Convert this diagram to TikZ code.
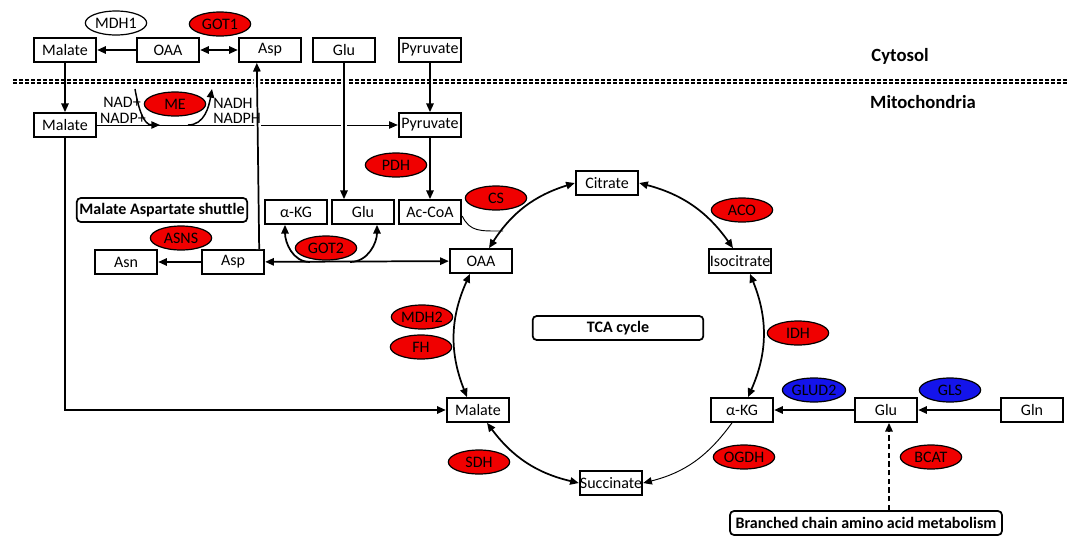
\documentclass[tikz,border=0pt]{standalone}
\usepackage{fontspec}
\setmainfont{Carlito}
\usetikzlibrary{shapes.geometric,arrows.meta,calc}
\definecolor{enzred}{RGB}{240,0,0}
\definecolor{enzblue}{RGB}{20,20,235}
\begin{document}
\begin{tikzpicture}[x=0.75pt,y=-0.75pt,
  every node/.style={font=\fontsize{12}{14}\selectfont},
  box/.style={draw, line width=1.3pt, minimum width=47pt, minimum height=18pt, inner sep=0pt},
  enz/.style={ellipse, draw, line width=0.9pt, fill=enzred, minimum width=46pt, minimum height=18pt, inner sep=0pt},
  enzb/.style={enz, fill=enzblue},
  enzw/.style={enz, fill=white},
  rbox/.style={draw, rounded corners=3pt, line width=1.3pt, minimum height=18pt, inner sep=2pt, font=\fontsize{12}{14}\selectfont\bfseries},
  lab/.style={inner sep=0pt},
  conn/.style={line width=1.3pt, -{Triangle[length=6.5pt,width=5.5pt]}},
  dconn/.style={line width=1.3pt, {Triangle[length=6.5pt,width=5.5pt]}-{Triangle[length=6.5pt,width=5.5pt]}},
  thinconn/.style={line width=0.7pt, -{Triangle[length=6.5pt,width=5.5pt]}},
  hop/.style={preaction={draw, white, line width=5pt}}
]
\useasboundingbox (0,0) rectangle (1072,536);

% membrane
\draw[line width=1.5pt, dash pattern=on 3pt off 1.5pt] (13,79.5) -- (1068,79.5);
\draw[line width=1.5pt, dash pattern=on 3pt off 1.5pt] (13,83) -- (1068,83);
\node[lab, font=\fontsize{14}{16}\selectfont\bfseries] (cyto) at (900,56) {Cytosol};
\node[lab, font=\fontsize{14}{16}\selectfont\bfseries] (mito) at (923,102) {Mitochondria};

% cytosol
\node[box] (malc) at (65,50) {Malate};
\node[box] (oaac) at (168,50) {OAA};
\node[box] (aspc) at (270,50) {Asp};
\node[box] (gluc) at (344,50) {Glu};
\node[box] (pyrc) at (430,50) {Pyruvate};
\node[enzw] (mdh1) at (116,23) {MDH1};
\node[enz] (got1) at (220,24) {GOT1};

% mito upper
\node[box] (malm) at (65,125) {Malate};
\node[box] (pyrm) at (430,125) {Pyruvate};
\node[enz] (me) at (175,104) {ME};

\node[box] (akgm) at (296,212) {α-KG};
\node[box] (glum) at (363,212) {Glu};
\node[box] (acoa) at (430,212) {Ac-CoA};
\node[enz] (pdh) at (396,165) {PDH};
\node[rbox, minimum width=127pt] (mas) at (162,210) {Malate Aspartate shuttle};
\node[enz] (asns) at (181,238) {ASNS};
\node[box] (asn) at (126,262) {Asn};
\node[box] (aspm) at (233,262) {Asp};
\node[enz] (got2) at (326,248) {GOT2};

% TCA
\node[box] (oaat) at (481,261) {OAA};
\node[enz] (cs) at (496,198) {CS};
\node[box] (cit) at (607,183) {Citrate};
\node[enz] (aco) at (742,210) {ACO};
\node[box] (iso) at (740,261) {Isocitrate};
\node[rbox, minimum width=128pt] (tca) at (618,328) {TCA cycle};
\node[enz] (mdh2) at (422,317) {MDH2};
\node[enz] (fh) at (421,347) {FH};
\node[enz] (idh) at (798,333) {IDH};
\node[box] (malt) at (478,410) {Malate};
\node[box] (akgt) at (742,410) {α-KG};
\node[enz] (sdh) at (479,462) {SDH};
\node[box] (succ) at (611,483) {Succinate};
\node[enz] (ogdh) at (744,457) {OGDH};

% right
\node[enzb] (glud2) at (814,390) {GLUD2};
\node[box] (glur) at (886,410) {Glu};
\node[enzb] (gls) at (950,390) {GLS};
\node[box] (gln) at (1032,410) {Gln};
\node[enz] (bcat) at (931,457) {BCAT};
\node[rbox, minimum width=204pt] (bcaa) at (866,523) {Branched chain amino acid metabolism};

% cytosol connectors
\draw[conn] (oaac) -- (malc);
\draw[dconn] (oaac) -- (aspc);
\draw[conn] (malc) -- (malm);
\draw[conn] (pyrc) -- (pyrm);

% malate -> pyruvate (thin) and ME arcs
\draw[thinconn] (malm) -- (pyrm);
\coordinate (mea) at (135,89);
\coordinate (meb) at (160,125);
\coordinate (mec) at (188,125);
\coordinate (med) at (212,89);
\draw[thinconn, line width=1.1pt] (mea) to[out=-80,in=180] (meb);
\draw[thinconn, line width=1.1pt] (mec) to[out=0,in=-100] (med);

% verticals crossing the malate line
\draw[conn, hop] ($(aspm.north east)+(-6,0)$) -- ($(aspc.south west)+(19,0)$);
\draw[conn, hop] (gluc.south) -- (gluc.south |- glum.north);
\draw[conn] (pyrm) -- (acoa);

% cofactor labels
\node[lab, anchor=east] (nad) at (141,102) {NAD+};
\node[lab, anchor=east] (nadp) at (146,118) {NADP+};
\node[lab, anchor=west] (nadh) at (213,103) {NADH};
\node[lab, anchor=west] (nadph) at (213,118) {NADPH};

% long malate line
\draw[conn] (malm.south) |- (malt.west);

% Asp connections
\draw[conn] (aspm) -- (asn);
\draw[dconn] (aspm) -- (oaat);
\coordinate (g2a) at (310,262);
\coordinate (g2b) at (350,262);
\draw[conn] (g2a) to[out=180,in=-90] ($(akgm.south)+(-11,0)$);
\draw[conn] (g2b) to[out=0,in=-90] ($(glum.south)+(14,0)$);

% Ac-CoA joins cycle
\coordinate (acj) at (503,231);
\draw[line width=0.7pt] ($(acoa.east)+(0,4)$) .. controls (470,232) and (480,231) .. (acj);

% TCA cycle arcs
\draw[dconn] (cit.west) to[bend right=20] ($(oaat.north)+(8,0)$);
\draw[dconn] (cit.east) to[bend left=20] ($(iso.north)+(-7,0)$);
\draw[dconn] ($(oaat.south)+(-11,0)$) to[bend right=23] ($(malt.north)+(-11,0)$);
\draw[dconn] ($(iso.south)+(10,0)$) to[bend left=23] ($(akgt.north)+(6,0)$);
\draw[dconn] ($(malt.south)+(9,0)$) to[bend right=20] (succ.west);
\draw[thinconn] ($(akgt.south)+(-10,0)$) to[bend left=20] (succ.east);

% glutamine
\draw[conn] (gln) -- (glur);
\draw[conn] (glur) -- (akgt);
\draw[conn, dash pattern=on 4pt off 2.5pt] (bcaa.north -| 889,0) -- ($(glur.south)+(3,0)$);
\end{tikzpicture}
\end{document}
